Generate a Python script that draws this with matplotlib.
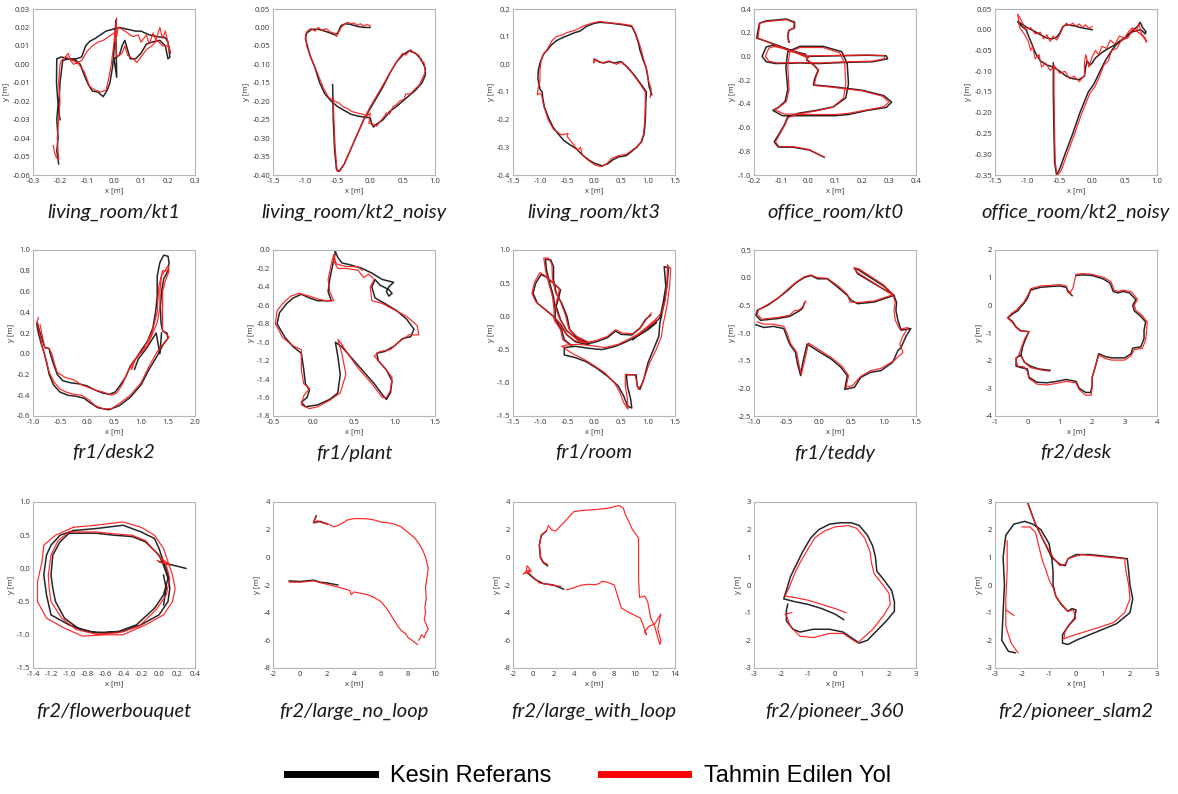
import numpy as np
import matplotlib
matplotlib.use("Agg")
import matplotlib.pyplot as plt
from matplotlib.lines import Line2D
from matplotlib.ticker import MultipleLocator, FormatStrFormatter

plt.rcParams['axes.unicode_minus'] = False

GAP = (np.nan, np.nan)

titles = ["living_room/kt1", "living_room/kt2_noisy", "living_room/kt3",
          "office_room/kt0", "office_room/kt2_noisy",
          "fr1/desk2", "fr1/plant", "fr1/room", "fr1/teddy", "fr2/desk",
          "fr2/flowerbouquet", "fr2/large_no_loop", "fr2/large_with_loop",
          "fr2/pioneer_360", "fr2/pioneer_slam2"]

x_limits = [(-0.3, 0.3), (-1.5, 1.0), (-1.5, 1.5), (-0.2, 0.4), (-1.5, 1.0),
            (-1.0, 2.0), (-0.5, 1.5), (-1.5, 1.5), (-1.0, 1.5), (-1, 4),
            (-1.4, 0.4), (-2, 10), (-2, 14), (-3, 3), (-3, 3)]
y_limits = [(-0.06, 0.03), (-0.40, 0.05), (-0.4, 0.2), (-1.0, 0.4), (-0.35, 0.05),
            (-0.6, 1.0), (-1.8, 0.0), (-1.5, 1.0), (-2.5, 0.5), (-4, 2),
            (-1.5, 1.0), (-8, 4), (-8, 4), (-3, 3), (-3, 3)]
x_steps = [0.1, 0.5, 0.5, 0.1, 0.5, 0.5, 0.5, 0.5, 0.5, 1, 0.2, 2, 2, 1, 1]
y_steps = [0.01, 0.05, 0.1, 0.2, 0.05, 0.2, 0.2, 0.5, 0.5, 1, 0.5, 2, 2, 1, 1]
x_formats = ['%.1f', '%.1f', '%.1f', '%.1f', '%.1f', '%.1f', '%.1f', '%.1f', '%.1f',
             '%d', '%.1f', '%d', '%d', '%d', '%d']
y_formats = ['%.2f', '%.2f', '%.1f', '%.1f', '%.2f', '%.1f', '%.1f', '%.1f', '%.1f',
             '%d', '%.1f', '%d', '%d', '%d', '%d']

legend_labels = ["Kesin Referans", "Tahmin Edilen Yol"]

# ---- living_room/kt1 ----
kt1_gt = [(-0.205, -0.054), (-0.212, -0.047), (-0.207, -0.040), (-0.212, -0.030), (-0.207, -0.022),
          (-0.213, -0.010), (-0.212, 0.003), (-0.195, 0.004), (-0.17, 0.003), (-0.14, 0.003),
          (-0.12, 0.004), (-0.105, 0.010), (-0.09, 0.0125), (-0.07, 0.014), (-0.05, 0.016),
          (-0.03, 0.018), (-0.005, 0.019), (0.02, 0.020), (0.05, 0.019), (0.08, 0.018),
          (0.10, 0.018), (0.13, 0.016), (0.16, 0.015), (0.19, 0.0145), (0.20, 0.012),
          (0.207, 0.004), (0.20, 0.003), (0.19, 0.010), (0.17, 0.013), (0.14, 0.012),
          (0.12, 0.011), (0.10, 0.006), (0.08, 0.003), (0.06, 0.003), (0.05, 0.008),
          (0.04, 0.013), (0.03, 0.010), (0.02, 0.005), (0.0, 0.003), (0.01, -0.007),
          (0.008, 0.010), (0.005, 0.020), (0.008, 0.024), (0.003, 0.012), (-0.005, -0.001),
          (-0.015, -0.010), (-0.025, -0.014), (-0.04, -0.0175), (-0.06, -0.015), (-0.08, -0.0145),
          (-0.095, -0.011), (-0.11, -0.006), (-0.125, 0.0), (-0.14, 0.002), (-0.17, 0.003),
          (-0.19, 0.002), (-0.20, -0.010), (-0.205, -0.025), (-0.20, -0.030)]
kt1_est = [(-0.225, -0.044), (-0.22, -0.048), (-0.215, -0.050), (-0.205, -0.052), (-0.21, -0.040),
           (-0.205, -0.030), (-0.20, -0.020), (-0.205, -0.010), (-0.20, 0.0), (-0.195, 0.002),
           (-0.18, 0.004), (-0.17, 0.006), (-0.16, 0.002), (-0.15, 0.0), (-0.12, 0.002),
           (-0.10, 0.007), (-0.08, 0.010), (-0.06, 0.012), (-0.04, 0.013), (-0.02, 0.015),
           (0.0, 0.017), (0.01, 0.015), (0.015, 0.020), (0.03, 0.019), (0.05, 0.017),
           (0.07, 0.015), (0.09, 0.016), (0.10, 0.012), (0.12, 0.016), (0.13, 0.011),
           (0.145, 0.017), (0.155, 0.013), (0.17, 0.020), (0.18, 0.014), (0.19, 0.018),
           (0.20, 0.012), (0.21, 0.006), (0.20, 0.010), (0.18, 0.010), (0.16, 0.013),
           (0.14, 0.010), (0.12, 0.008), (0.10, 0.004), (0.085, 0.001), (0.07, 0.003),
           (0.05, 0.005), (0.04, 0.010), (0.03, 0.006), (0.01, 0.004), (0.005, 0.014),
           (0.01, 0.025), (0.0, 0.012), (-0.01, 0.0), (-0.02, -0.008), (-0.03, -0.014),
           (-0.05, -0.015), (-0.07, -0.014), (-0.09, -0.012), (-0.11, -0.004), (-0.13, 0.0),
           (-0.15, 0.002), (-0.18, 0.004)]

# ---- living_room/kt2_noisy ----
kt2n_gt = [(0.0, 0.0), (-0.1, 0.0), (-0.2, 0.003), (-0.3, 0.008), (-0.38, 0.010), (-0.45, 0.005),
           (-0.5, -0.015), (-0.55, -0.020), (-0.62, -0.015), (-0.7, -0.010), (-0.8, -0.005),
           (-0.9, -0.005), (-0.98, -0.015), (-1.0, -0.030), (-0.97, -0.050), (-0.92, -0.080),
           (-0.85, -0.110), (-0.78, -0.150), (-0.7, -0.180), (-0.6, -0.200), (-0.5, -0.215),
           (-0.4, -0.225), (-0.3, -0.235), (-0.2, -0.240), (-0.1, -0.243), (0.0, -0.245),
           (0.02, -0.260), (0.05, -0.270), (0.1, -0.262), (0.2, -0.250), (0.3, -0.228),
           (0.4, -0.215), (0.5, -0.200), (0.6, -0.185), (0.7, -0.170), (0.8, -0.150),
           (0.85, -0.130), (0.85, -0.110), (0.78, -0.085), (0.7, -0.070), (0.6, -0.063),
           (0.5, -0.075), (0.4, -0.095), (0.3, -0.125), (0.2, -0.160), (0.1, -0.190),
           (0.0, -0.220), (-0.1, -0.250), (-0.2, -0.290), (-0.3, -0.330), (-0.4, -0.370),
           (-0.48, -0.390), (-0.52, -0.385), (-0.55, -0.330), (-0.57, -0.250), (-0.58, -0.155)]
kt2n_est = [(0.0, 0.005), (-0.05, 0.008), (-0.1, 0.003), (-0.15, 0.010), (-0.2, 0.006), (-0.25, 0.012),
            (-0.3, 0.010), (-0.35, 0.014), (-0.4, 0.008), (-0.45, 0.0), (-0.5, -0.018), (-0.52, -0.025),
            (-0.56, -0.015), (-0.62, -0.012), (-0.68, -0.003), (-0.75, -0.008), (-0.8, 0.0),
            (-0.85, -0.010), (-0.92, -0.003), (-0.98, -0.012), (-1.0, -0.020), (-0.98, -0.050),
            (-0.93, -0.075), (-0.87, -0.100), (-0.8, -0.130), (-0.72, -0.165), (-0.64, -0.190),
            (-0.55, -0.200), (-0.48, -0.205), (-0.42, -0.215), (-0.35, -0.220), (-0.28, -0.228),
            (-0.2, -0.232), (-0.12, -0.235), (-0.05, -0.240), (0.0, -0.232), (-0.02, -0.260),
            (0.05, -0.262), (0.1, -0.268), (0.15, -0.255), (0.2, -0.245), (0.25, -0.232),
            (0.3, -0.235), (0.35, -0.215), (0.4, -0.210), (0.45, -0.200), (0.52, -0.195),
            (0.55, -0.180), (0.62, -0.180), (0.7, -0.165), (0.75, -0.158), (0.8, -0.140),
            (0.85, -0.120), (0.83, -0.095), (0.78, -0.090), (0.75, -0.075), (0.68, -0.070),
            (0.62, -0.060), (0.55, -0.075), (0.5, -0.070), (0.42, -0.090), (0.35, -0.110),
            (0.28, -0.130), (0.2, -0.155), (0.1, -0.185), (0.0, -0.215), (-0.1, -0.250),
            (-0.2, -0.290), (-0.3, -0.330), (-0.4, -0.370), (-0.47, -0.390), (-0.51, -0.390),
            (-0.54, -0.330), (-0.56, -0.250), (-0.57, -0.190)]

# ---- living_room/kt3 ----
kt3_gt = [(0.0, 0.016), (0.05, 0.015), (0.1, 0.008), (0.18, 0.005), (0.28, 0.010), (0.38, 0.005),
          (0.5, 0.010), (0.62, -0.010), (0.75, -0.040), (0.9, -0.080), (0.97, -0.100), (0.96, -0.140),
          (0.95, -0.200), (0.93, -0.250), (0.88, -0.280), (0.79, -0.300), (0.6, -0.330),
          (0.45, -0.335), (0.35, -0.345), (0.25, -0.360), (0.15, -0.367), (0.05, -0.360),
          (0.0, -0.357), (-0.1, -0.345), (-0.2, -0.330), (-0.33, -0.305), (-0.45, -0.290),
          (-0.56, -0.275), (-0.67, -0.250), (-0.76, -0.227), (-0.85, -0.190), (-0.92, -0.154),
          (-0.95, -0.120), (-0.96, -0.100), (-1.0, -0.090), (-1.04, -0.050), (-1.03, -0.020),
          (-1.0, 0.005), (-0.95, 0.030), (-0.92, 0.040), (-0.85, 0.055), (-0.79, 0.070),
          (-0.7, 0.085), (-0.6, 0.095), (-0.45, 0.107), (-0.35, 0.115), (-0.26, 0.120),
          (-0.14, 0.137), (0.0, 0.148), (0.11, 0.152), (0.3, 0.149), (0.54, 0.143), (0.7, 0.137),
          (0.76, 0.113), (0.82, 0.080), (0.85, 0.052), (0.92, 0.010), (0.96, -0.008),
          (1.0, -0.050), (1.02, -0.080), (1.07, -0.110)]
kt3_est = [(0.0, 0.020), (0.0, 0.005), (0.02, 0.020), (0.05, 0.012), (0.1, 0.010), (0.15, 0.005),
           (0.2, 0.008), (0.28, 0.012), (0.35, 0.005), (0.42, 0.0), (0.5, 0.008), (0.6, -0.008),
           (0.72, -0.035), (0.85, -0.070), (0.95, -0.100), (0.95, -0.150), (0.94, -0.200),
           (0.92, -0.250), (0.87, -0.280), (0.78, -0.300), (0.6, -0.325), (0.45, -0.330),
           (0.33, -0.340), (0.23, -0.360), (0.13, -0.370), (0.03, -0.365), (-0.05, -0.355),
           (-0.15, -0.340), (-0.22, -0.325), (-0.25, -0.300), (-0.3, -0.310), (-0.38, -0.290),
           (-0.5, -0.260), (-0.48, -0.250), (-0.6, -0.255), (-0.75, -0.235), (-0.85, -0.200),
           (-0.93, -0.150), (-0.97, -0.110), (-1.0, -0.105), (-1.05, -0.110), (-1.03, -0.080),
           (-1.0, -0.060), (-1.0, -0.020), (-0.98, 0.010), (-0.93, 0.040), (-0.88, 0.050),
           (-0.82, 0.070), (-0.78, 0.085), (-0.7, 0.100), (-0.6, 0.105), (-0.5, 0.115),
           (-0.4, 0.120), (-0.3, 0.128), (-0.18, 0.140), (-0.05, 0.148), (0.1, 0.155),
           (0.3, 0.150), (0.55, 0.145), (0.7, 0.140), (0.77, 0.113), (0.83, 0.080),
           (0.88, 0.050), (0.93, 0.010), (0.98, -0.020), (1.01, -0.060), (1.06, -0.090),
           (1.04, -0.120)]

# ---- office_room/kt0 ----
kt0_gt = [(0.06, -0.85), (0.006, -0.79), (-0.056, -0.765), (-0.11, -0.765), (-0.125, -0.72),
          (-0.106, -0.65), (-0.088, -0.58), (-0.075, -0.51), (-0.037, -0.48), (0.031, -0.455),
          (0.094, -0.425), (0.14, -0.35), (0.15, -0.23), (0.145, -0.06), (0.125, 0.04),
          (0.056, 0.085), (-0.03, 0.085), (-0.075, 0.04), (-0.082, -0.09), (-0.075, -0.28),
          (-0.085, -0.38), (-0.11, -0.43), (-0.13, -0.455), (-0.095, -0.50), (0.0, -0.50),
          (0.1, -0.50), (0.15, -0.49), (0.22, -0.455), (0.29, -0.43), (0.31, -0.385),
          (0.28, -0.33), (0.2, -0.285), (0.09, -0.255), (0.02, -0.24), (0.025, -0.185),
          (0.038, -0.115), (0.02, -0.07), (-0.005, -0.03), (0.0, 0.0), (0.1, 0.005),
          (0.22, 0.01), (0.29, 0.005), (0.295, -0.02), (0.24, -0.045), (0.14, -0.05),
          (0.04, -0.06), (-0.03, -0.055), (-0.12, -0.06), (-0.155, -0.045), (-0.17, 0.0),
          (-0.155, 0.08), (-0.13, 0.095), (-0.09, 0.07), (-0.06, 0.045), (-0.01, 0.02),
          (0.0, -0.01), (-0.05, 0.04), (-0.12, 0.10), (-0.19, 0.155), (-0.18, 0.28),
          (-0.155, 0.30), (-0.08, 0.315), (-0.05, 0.29), (-0.05, 0.24), (-0.07, 0.22),
          (-0.075, 0.17), (-0.07, 0.12)]
kt0_est = [(0.055, -0.845), (0.004, -0.785), (-0.056, -0.76), (-0.108, -0.76), (-0.12, -0.72),
           (-0.103, -0.65), (-0.086, -0.58), (-0.073, -0.515), (-0.035, -0.485), (0.03, -0.46),
           (0.09, -0.43), (0.132, -0.35), (0.14, -0.23), (0.136, -0.06), (0.118, 0.03),
           (0.056, 0.075), (-0.03, 0.075), (-0.068, 0.035), (-0.075, -0.09), (-0.07, -0.28),
           (-0.08, -0.38), (-0.105, -0.425), (-0.122, -0.45), (-0.09, -0.485), (0.0, -0.49),
           (0.1, -0.49), (0.15, -0.48), (0.22, -0.45), (0.28, -0.425), (0.3, -0.385),
           (0.275, -0.335), (0.2, -0.29), (0.09, -0.26), (0.024, -0.245), (0.028, -0.185),
           (0.04, -0.115), (0.02, -0.065), (-0.005, -0.025), (0.002, 0.005), (0.1, 0.008),
           (0.22, 0.012), (0.28, 0.008), (0.285, -0.018), (0.24, -0.04), (0.14, -0.045),
           (0.04, -0.055), (-0.03, -0.05), (-0.115, -0.055), (-0.145, -0.04), (-0.158, 0.0),
           (-0.145, 0.07), (-0.125, 0.085), (-0.09, 0.065), (-0.06, 0.04), (-0.01, 0.015),
           (0.0, -0.012), (-0.05, 0.035), (-0.12, 0.095), (-0.185, 0.155), (-0.178, 0.28),
           (-0.152, 0.295), (-0.08, 0.31), (-0.052, 0.285), (-0.053, 0.24), (-0.072, 0.22),
           (-0.076, 0.17), (-0.072, 0.12)]

# ---- office_room/kt2_noisy ----
kt2o_gt = [(0.0, 0.0), (-0.1, 0.003), (-0.2, 0.006), (-0.3, 0.010), (-0.4, 0.012), (-0.45, 0.008),
           (-0.5, -0.008), (-0.55, -0.018), (-0.62, -0.022), (-0.7, -0.020), (-0.8, -0.012),
           (-0.9, -0.003), (-1.0, 0.005), (-1.1, 0.015), (-1.15, 0.020), (-1.1, 0.010),
           (-1.02, 0.0), (-0.97, -0.020), (-0.93, -0.035), (-0.88, -0.055), (-0.8, -0.075),
           (-0.7, -0.085), (-0.6, -0.090), (-0.5, -0.100), (-0.4, -0.112), (-0.3, -0.118),
           (-0.2, -0.120), (-0.12, -0.112), (-0.1, -0.090), (-0.08, -0.075), (-0.03, -0.085),
           (0.0, -0.080), (0.05, -0.068), (0.15, -0.055), (0.25, -0.045), (0.4, -0.032),
           (0.5, -0.020), (0.6, -0.005), (0.7, 0.008), (0.74, 0.018), (0.78, 0.005),
           (0.83, -0.005), (0.82, -0.010), (0.75, 0.0), (0.62, -0.005), (0.5, -0.020),
           (0.4, -0.030), (0.3, -0.050), (0.2, -0.075), (0.12, -0.100), (0.03, -0.130),
           (-0.06, -0.150), (-0.19, -0.200), (-0.3, -0.250), (-0.42, -0.300), (-0.5, -0.335),
           (-0.55, -0.350), (-0.58, -0.320), (-0.59, -0.250), (-0.6, -0.150), (-0.6, -0.080)]
kt2o_est = [(0.0, 0.008), (-0.05, 0.003), (-0.1, 0.012), (-0.15, 0.006), (-0.2, 0.014), (-0.25, 0.008),
            (-0.3, 0.016), (-0.35, 0.010), (-0.4, 0.016), (-0.45, 0.006), (-0.5, -0.012),
            (-0.55, -0.025), (-0.6, -0.015), (-0.65, -0.028), (-0.7, -0.012), (-0.75, -0.022),
            (-0.8, -0.006), (-0.88, -0.010), (-0.95, 0.005), (-1.02, 0.0), (-1.08, 0.018),
            (-1.15, 0.038), (-1.12, 0.005), (-1.05, -0.010), (-0.98, -0.030), (-0.95, -0.050),
            (-0.92, -0.040), (-0.88, -0.070), (-0.82, -0.060), (-0.78, -0.090), (-0.72, -0.080),
            (-0.65, -0.098), (-0.58, -0.088), (-0.5, -0.105), (-0.42, -0.100), (-0.35, -0.118),
            (-0.28, -0.112), (-0.2, -0.125), (-0.12, -0.110), (-0.12, -0.080), (-0.1, -0.060),
            (-0.05, -0.090), (0.0, -0.065), (0.05, -0.050), (0.1, -0.060), (0.15, -0.040),
            (0.22, -0.045), (0.28, -0.025), (0.35, -0.035), (0.42, -0.015), (0.5, -0.020),
            (0.56, -0.005), (0.62, 0.005), (0.68, -0.003), (0.72, 0.015), (0.76, -0.010),
            (0.82, -0.020), (0.84, -0.030), (0.78, -0.015), (0.7, -0.005), (0.62, 0.0),
            (0.55, -0.020), (0.45, -0.025), (0.38, -0.045), (0.3, -0.050), (0.25, -0.075),
            (0.18, -0.085), (0.12, -0.110), (0.05, -0.135), (-0.04, -0.155), (-0.17, -0.205),
            (-0.28, -0.255), (-0.4, -0.305), (-0.48, -0.340), (-0.54, -0.352), (-0.57, -0.320),
            (-0.58, -0.250), (-0.59, -0.150), (-0.59, -0.085)]

# ---- fr1/desk2 ----
desk2_gt = [(-0.93, 0.28), (-0.9, 0.2), (-0.85, 0.1), (-0.8, 0.02), (-0.75, -0.08), (-0.7, -0.2),
            (-0.62, -0.3), (-0.5, -0.37), (-0.35, -0.4), (-0.2, -0.41), (-0.05, -0.43),
            (0.05, -0.47), (0.2, -0.52), (0.4, -0.54), (0.6, -0.5), (0.8, -0.42), (1.0, -0.3),
            (1.15, -0.15), (1.3, -0.02), (1.4, 0.08), (1.5, 0.15), (1.48, 0.2), (1.4, 0.22),
            (1.37, 0.3), (1.36, 0.45), (1.38, 0.6), (1.42, 0.72), (1.5, 0.8), (1.52, 0.88),
            (1.5, 0.94), (1.42, 0.95), (1.35, 0.88), (1.3, 0.75), (1.3, 0.55), (1.27, 0.4),
            (1.22, 0.25), (1.12, 0.12), (1.0, 0.03), (0.9, -0.05), (0.8, -0.12), (0.72, -0.22),
            (0.62, -0.3), (0.52, -0.37), (0.42, -0.39), (0.3, -0.38), (0.15, -0.35), (0.0, -0.31),
            (-0.15, -0.29), (-0.3, -0.28), (-0.45, -0.26), (-0.55, -0.2), (-0.62, -0.1),
            (-0.68, 0.0), (-0.7, 0.05), (-0.78, 0.06), (-0.82, 0.12), (-0.88, 0.22), (-0.92, 0.3),
            GAP, (0.88, -0.15), (0.95, -0.05), (1.1, 0.05), (1.28, 0.2), (1.35, 0.0), (1.38, 0.2)]
desk2_est = [(-0.9, 0.35), (-0.93, 0.3), (-0.9, 0.25), (-0.86, 0.15), (-0.82, 0.05), (-0.76, -0.05),
             (-0.7, -0.18), (-0.6, -0.28), (-0.5, -0.34), (-0.38, -0.37), (-0.25, -0.39),
             (-0.1, -0.4), (0.05, -0.45), (0.15, -0.5), (0.3, -0.53), (0.45, -0.53), (0.6, -0.48),
             (0.8, -0.4), (1.0, -0.28), (1.15, -0.12), (1.3, 0.02), (1.45, 0.12), (1.52, 0.16),
             (1.45, 0.2), (1.4, 0.22), (1.4, 0.4), (1.4, 0.6), (1.45, 0.7), (1.52, 0.8),
             (1.5, 0.85), (1.42, 0.78), (1.38, 0.75), (1.35, 0.6), (1.35, 0.45), (1.3, 0.3),
             (1.22, 0.2), (1.12, 0.08), (0.98, 0.0), (0.85, -0.08), (0.75, -0.18), (0.65, -0.3),
             (0.55, -0.38), (0.45, -0.4), (0.3, -0.37), (0.15, -0.35), (0.0, -0.32), (-0.1, -0.3),
             (-0.25, -0.25), (-0.4, -0.23), (-0.55, -0.18), (-0.6, -0.1), (-0.65, 0.0),
             (-0.7, 0.05), (-0.78, 0.06), (-0.82, 0.15), (-0.87, 0.28),
             GAP, (0.85, -0.12), (0.82, -0.15), (0.9, -0.05), (1.05, 0.05), (1.2, 0.2),
             (1.3, 0.4), (1.33, 0.65), (1.4, 0.8), (1.5, 0.8)]

# ---- fr1/plant ----
plant_gt = [(0.27, -0.02), (0.3, -0.08), (0.35, -0.14), (0.45, -0.16), (0.6, -0.2), (0.72, -0.25),
            (0.85, -0.32), (0.99, -0.35), (0.93, -0.4), (0.9, -0.45), (0.93, -0.5), (0.97, -0.47),
            (0.93, -0.43), (0.82, -0.38), (0.76, -0.32), (0.72, -0.4), (0.76, -0.52), (0.88, -0.58),
            (1.03, -0.66), (1.15, -0.75), (1.24, -0.86), (1.2, -0.94), (1.1, -0.96), (1.0, -1.04),
            (0.88, -1.1), (0.78, -1.12), (0.8, -1.2), (0.9, -1.3), (0.97, -1.42), (0.95, -1.55),
            (0.9, -1.62), (0.86, -1.58), (0.75, -1.45), (0.6, -1.3), (0.45, -1.15), (0.35, -1.05),
            (0.27, -1.0), (0.3, -1.15), (0.33, -1.35), (0.3, -1.55), (0.2, -1.62), (0.05, -1.68),
            (-0.1, -1.7), (-0.15, -1.65), (-0.08, -1.6), (-0.05, -1.52), (-0.1, -1.45),
            (-0.12, -1.3), (-0.15, -1.12), (-0.25, -1.05), (-0.35, -0.95), (-0.45, -0.8),
            (-0.42, -0.68), (-0.33, -0.58), (-0.25, -0.52), (-0.15, -0.48), (-0.05, -0.52),
            (0.05, -0.55), (0.15, -0.55), (0.22, -0.55), (0.18, -0.45), (0.2, -0.32),
            (0.24, -0.15), (0.27, -0.02)]
plant_est = [(0.26, -0.05), (0.25, -0.12), (0.3, -0.2), (0.4, -0.2), (0.55, -0.22), (0.62, -0.3),
             (0.68, -0.26), (0.75, -0.32), (0.7, -0.4), (0.72, -0.55), (0.85, -0.58), (1.0, -0.65),
             (1.15, -0.72), (1.28, -0.82), (1.3, -0.92), (1.18, -0.92), (1.05, -1.0), (0.95, -1.08),
             (0.82, -1.1), (0.75, -1.15), (0.85, -1.25), (0.97, -1.38), (0.95, -1.52), (0.9, -1.6),
             (0.85, -1.6), (0.72, -1.45), (0.55, -1.28), (0.42, -1.12), (0.33, -1.0), (0.3, -0.97),
             (0.35, -1.12), (0.4, -1.35), (0.33, -1.55), (0.2, -1.63), (0.05, -1.7), (-0.05, -1.72),
             (-0.15, -1.68), (-0.12, -1.58), (-0.05, -1.5), (-0.12, -1.45), (-0.15, -1.3),
             (-0.15, -1.08), (-0.25, -1.04), (-0.38, -0.95), (-0.47, -0.8), (-0.45, -0.66),
             (-0.38, -0.58), (-0.28, -0.5), (-0.18, -0.47), (-0.05, -0.5), (0.05, -0.53),
             (0.15, -0.55), (0.25, -0.55), (0.2, -0.45), (0.18, -0.32), (0.22, -0.15),
             (0.25, -0.05), (0.28, -0.15), (0.4, -0.18), (0.55, -0.18), (0.6, -0.22)]

# ---- fr1/room ----
room_gt = [(-0.1, -0.42), (-0.3, -0.35), (-0.5, -0.22), (-0.62, -0.05), (-0.7, 0.15), (-0.65, 0.3),
           (-0.62, 0.4), (-0.75, 0.5), (-0.9, 0.6), (-0.98, 0.63), (-1.08, 0.5), (-1.13, 0.35),
           (-1.05, 0.2), (-0.9, 0.1), (-0.75, 0.0), (-0.62, -0.12), (-0.5, -0.28), (-0.35, -0.38),
           (-0.15, -0.42), (0.05, -0.38), (0.25, -0.32), (0.4, -0.22), (0.5, -0.27), (0.7, -0.28),
           (0.85, -0.18), (0.95, -0.05), (1.05, 0.02),
           GAP, (0.72, -0.35), (0.9, -0.22), (1.1, -0.12), (1.22, -0.02), (1.28, 0.2),
           (1.33, 0.45), (1.3, 0.75), (1.38, 0.73), (1.35, 0.45), (1.3, 0.2), (1.22, -0.1),
           (1.2, -0.3), (1.1, -0.5), (1.0, -0.7), (0.92, -0.95), (0.85, -1.1), (0.8, -1.05),
           (0.78, -0.88), (0.6, -0.88), (0.62, -1.05), (0.68, -1.25), (0.7, -1.38), (0.62, -1.35),
           (0.55, -1.2), (0.45, -1.05), (0.25, -0.9), (0.05, -0.78), (-0.15, -0.68), (-0.35, -0.62),
           (-0.55, -0.58), (-0.55, -0.47), (-0.35, -0.45), (-0.1, -0.48), (0.15, -0.5),
           (0.4, -0.45), (0.6, -0.38), (0.8, -0.3), (1.0, -0.2), (1.15, -0.1),
           GAP, (-0.1, -0.4), (-0.3, -0.33), (-0.45, -0.2), (-0.5, 0.0), (-0.6, 0.2), (-0.7, 0.35),
           (-0.75, 0.55), (-0.75, 0.75), (-0.8, 0.85), (-0.9, 0.86), (-0.88, 0.7), (-0.82, 0.5),
           (-0.75, 0.3), (-0.72, 0.1), (-0.72, -0.05), (-0.6, -0.2), (-0.55, -0.35), (-0.4, -0.45)]
room_est = [(-0.15, -0.4), (-0.35, -0.32), (-0.52, -0.2), (-0.64, -0.03), (-0.72, 0.15),
            (-0.67, 0.3), (-0.64, 0.42), (-0.78, 0.52), (-0.92, 0.62), (-1.0, 0.66), (-1.1, 0.52),
            (-1.15, 0.35), (-1.08, 0.22), (-0.93, 0.12), (-0.78, 0.02), (-0.65, -0.1),
            (-0.52, -0.26), (-0.37, -0.36), (-0.17, -0.4), (0.05, -0.36), (0.25, -0.3),
            (0.4, -0.2), (0.52, -0.25), (0.72, -0.26), (0.88, -0.15), (0.98, -0.03), (1.06, 0.05),
            GAP, (0.78, -0.3), (0.95, -0.18), (1.12, -0.06), (1.25, 0.05), (1.32, 0.25),
            (1.35, 0.5), (1.36, 0.78), (1.42, 0.72), (1.4, 0.45), (1.35, 0.15), (1.28, -0.12),
            (1.25, -0.3), (1.15, -0.5), (1.02, -0.72), (0.9, -1.0), (0.82, -1.1), (0.78, -0.95),
            (0.76, -0.88), (0.58, -0.87), (0.58, -1.05), (0.62, -1.25), (0.63, -1.4),
            (0.55, -1.3), (0.48, -1.15), (0.38, -1.0), (0.2, -0.85), (0.0, -0.74), (-0.2, -0.64),
            (-0.4, -0.56), (-0.6, -0.45), (-0.5, -0.43), (-0.3, -0.42), (-0.05, -0.44),
            (0.2, -0.47), (0.45, -0.42), (0.65, -0.34), (0.85, -0.25), (1.02, -0.15), (1.17, -0.05),
            GAP, (-0.12, -0.38), (-0.32, -0.3), (-0.47, -0.18), (-0.53, 0.02), (-0.62, 0.22),
            (-0.72, 0.38), (-0.77, 0.58), (-0.78, 0.78), (-0.84, 0.88), (-0.93, 0.88),
            (-0.9, 0.7), (-0.84, 0.5), (-0.77, 0.3), (-0.74, 0.1), (-0.74, -0.05), (-0.62, -0.2),
            (-0.58, -0.35), (-0.42, -0.44)]

# ---- fr1/teddy ----
teddy_gt = [(-0.22, -0.45), (-0.25, -0.55), (-0.3, -0.6), (-0.45, -0.7), (-0.64, -0.74),
            (-0.9, -0.77), (-0.97, -0.68), (-0.95, -0.59), (-0.79, -0.5), (-0.64, -0.38),
            (-0.48, -0.23), (-0.36, -0.1), (-0.23, 0.0), (-0.12, 0.04), (-0.02, -0.02),
            (0.13, -0.02), (0.29, -0.17), (0.44, -0.32), (0.5, -0.41), (0.6, -0.47), (0.86, -0.44),
            (1.16, -0.32), (0.6, 0.07), (0.55, 0.17), (0.6, 0.15), (1.0, -0.15), (1.16, -0.32),
            (1.2, -0.45), (1.19, -0.59), (1.22, -0.77), (1.27, -0.95), (1.42, -0.92), (1.35, -1.05),
            (1.27, -1.26), (1.22, -1.32), (1.14, -1.53), (0.96, -1.68), (0.8, -1.71), (0.65, -1.8),
            (0.55, -1.98), (0.4, -2.02), (0.44, -1.77), (0.34, -1.62), (0.19, -1.47),
            (-0.02, -1.32), (-0.18, -1.2), (-0.2, -1.3), (-0.25, -1.55), (-0.28, -1.77),
            (-0.33, -1.55), (-0.36, -1.35), (-0.45, -1.2), (-0.5, -1.05), (-0.54, -0.92),
            (-0.7, -0.88), (-0.85, -0.9), (-0.97, -0.85)]
teddy_est = [(-0.2, -0.42), (-0.24, -0.52), (-0.3, -0.58), (-0.38, -0.6), (-0.45, -0.68),
             (-0.64, -0.72), (-0.88, -0.75), (-0.95, -0.66), (-0.93, -0.58), (-0.78, -0.48),
             (-0.62, -0.36), (-0.47, -0.2), (-0.35, -0.08), (-0.22, 0.02), (-0.12, 0.05),
             (-0.02, 0.0), (0.13, -0.01), (0.3, -0.15), (0.44, -0.3), (0.48, -0.44), (0.6, -0.45),
             (0.86, -0.42), (1.14, -0.31), (0.6, 0.09), (0.54, 0.18), (0.62, 0.16), (1.0, -0.13),
             (1.14, -0.3), (1.18, -0.45), (1.16, -0.59), (1.18, -0.77), (1.25, -0.93),
             (1.38, -0.9), (1.3, -1.05), (1.25, -1.2), (1.3, -1.35), (1.16, -1.5), (0.96, -1.64),
             (0.8, -1.68), (0.65, -1.78), (0.52, -1.95), (0.42, -1.98), (0.46, -1.77),
             (0.36, -1.6), (0.2, -1.45), (0.0, -1.3), (-0.16, -1.18), (-0.18, -1.3),
             (-0.23, -1.55), (-0.27, -1.75), (-0.31, -1.55), (-0.34, -1.35), (-0.44, -1.18),
             (-0.48, -1.03), (-0.54, -0.88), (-0.7, -0.84), (-0.85, -0.84), (-0.95, -0.8)]

# ---- fr2/desk ----
fr2desk_gt = [(1.38, 0.35), (1.25, 0.5), (1.2, 0.65), (1.0, 0.7), (0.7, 0.68), (0.4, 0.65),
              (0.1, 0.55), (0.05, 0.4), (0.0, 0.25), (-0.1, 0.08), (-0.2, -0.05), (-0.3, -0.2),
              (-0.45, -0.3), (-0.6, -0.45), (-0.45, -0.6), (-0.35, -0.78), (-0.2, -0.92),
              (0.05, -0.95), (-0.05, -1.2), (-0.15, -1.5), (-0.2, -1.8), (-0.35, -1.9),
              (-0.35, -2.2), (-0.2, -2.25), (0.0, -2.3), (0.05, -2.6), (0.3, -2.78), (0.6, -2.8),
              (0.9, -2.75), (1.2, -2.68), (1.5, -2.75), (1.6, -3.0), (1.8, -3.15), (1.95, -3.15),
              (2.0, -2.9), (2.0, -2.6), (2.1, -2.2), (2.2, -1.75), (2.4, -1.85), (2.6, -1.9),
              (3.0, -1.9), (3.2, -1.75), (3.25, -1.55), (3.5, -1.5), (3.6, -1.2), (3.6, -0.9),
              (3.65, -0.6), (3.5, -0.4), (3.3, -0.2), (3.25, 0.0), (3.35, 0.2), (3.15, 0.45),
              (2.95, 0.5), (2.8, 0.45), (2.65, 0.5), (2.55, 0.8), (2.35, 0.95), (2.0, 1.08),
              (1.7, 1.1), (1.5, 1.08),
              GAP, (-0.2, -1.8), (-0.1, -2.05), (0.1, -2.2), (0.35, -2.3), (0.7, -2.35)]
fr2desk_est = [(1.35, 0.4), (1.25, 0.55), (1.2, 0.7), (1.0, 0.75), (0.7, 0.72), (0.4, 0.7),
               (0.1, 0.6), (0.05, 0.45), (-0.02, 0.3), (-0.12, 0.1), (-0.22, -0.02), (-0.32, -0.15),
               (-0.48, -0.28), (-0.62, -0.45), (-0.48, -0.6), (-0.35, -0.8), (-0.22, -0.93),
               (0.05, -0.95), (-0.08, -1.2), (-0.18, -1.5), (-0.25, -1.75), (-0.35, -1.95),
               (-0.3, -2.2), (-0.1, -2.22), (0.0, -2.4), (0.05, -2.65), (0.3, -2.85), (0.6, -2.88),
               (0.9, -2.82), (1.2, -2.75), (1.5, -2.8), (1.6, -3.05), (1.8, -3.25), (1.97, -3.25),
               (2.0, -2.95), (2.0, -2.6), (2.1, -2.2), (2.2, -1.8), (2.4, -1.92), (2.6, -1.98),
               (3.0, -1.98), (3.2, -1.82), (3.3, -1.6), (3.55, -1.55), (3.65, -1.25), (3.68, -0.9),
               (3.7, -0.6), (3.55, -0.38), (3.35, -0.18), (3.3, 0.0), (3.4, 0.22), (3.2, 0.5),
               (2.95, 0.55), (2.8, 0.5), (2.68, 0.55), (2.58, 0.85), (2.38, 1.0), (2.0, 1.12),
               (1.7, 1.15), (1.5, 1.12), (1.45, 0.85), (1.4, 0.6), (1.32, 0.48),
               GAP, (-0.2, -1.85), (-0.05, -2.1), (0.1, -2.25), (0.35, -2.32), (0.65, -2.38)]

# ---- fr2/flowerbouquet ----
flower_gt = [(-0.95, 0.57), (-0.7, 0.6), (-0.4, 0.65), (-0.2, 0.55), (-0.05, 0.45), (0.0, 0.3),
             (0.05, 0.1), (0.1, -0.1), (0.12, -0.3), (0.1, -0.5), (0.0, -0.7), (-0.2, -0.85),
             (-0.4, -0.95), (-0.6, -0.97), (-0.8, -0.95), (-1.0, -0.85), (-1.2, -0.7),
             (-1.25, -0.4), (-1.28, -0.1), (-1.25, 0.2), (-1.2, 0.35), (-1.1, 0.5), (-0.95, 0.57),
             GAP, (-1.0, 0.53), (-0.7, 0.53), (-0.5, 0.5), (-0.3, 0.48), (-0.15, 0.4), (0.0, 0.2),
             (0.05, 0.05), (0.1, -0.15), (0.05, -0.4), (-0.05, -0.6), (-0.25, -0.85),
             (-0.45, -0.95), (-0.7, -0.97), (-0.9, -0.9), (-1.05, -0.75), (-1.15, -0.5),
             (-1.18, -0.3), (-1.2, -0.1), (-1.18, 0.2), (-1.1, 0.4), (-1.0, 0.53),
             GAP, (0.0, 0.1), (0.15, 0.05), (0.3, 0.0),
             GAP, (0.05, -0.55), (0.08, -0.3), (0.05, -0.1)]
flower_est = [(-0.95, 0.62), (-0.7, 0.65), (-0.4, 0.7), (-0.2, 0.62), (-0.05, 0.5), (0.05, 0.3),
              (0.1, 0.1), (0.15, -0.1), (0.18, -0.3), (0.15, -0.5), (0.05, -0.7), (-0.15, -0.85),
              (-0.4, -1.0), (-0.6, -1.0), (-0.85, -1.02), (-1.05, -0.9), (-1.25, -0.75),
              (-1.35, -0.5), (-1.35, -0.2), (-1.3, 0.1), (-1.28, 0.35), (-1.15, 0.5), (-0.95, 0.62),
              GAP, (-1.0, 0.55), (-0.7, 0.55), (-0.5, 0.52), (-0.3, 0.5), (-0.15, 0.42),
              (-0.02, 0.22), (0.08, 0.05), (0.12, -0.15), (0.08, -0.4), (-0.03, -0.62),
              (-0.22, -0.87), (-0.45, -0.97), (-0.7, -0.99), (-0.92, -0.92), (-1.08, -0.75),
              (-1.2, -0.5), (-1.22, -0.3), (-1.23, -0.1), (-1.2, 0.2), (-1.12, 0.42), (-1.0, 0.55),
              GAP, (-0.02, 0.12), (0.05, 0.08), (0.12, 0.05), (0.03, 0.15)]

# ---- fr2/large_no_loop ----
lnl_gt = [(1.2, 3.0), (1.0, 2.5), (1.5, 2.6), (2.0, 2.4),
          GAP, (-0.8, -1.7), (0.0, -1.75), (0.5, -1.7), (1.0, -1.65), (1.5, -1.8), (2.0, -1.85),
          (2.8, -2.0)]
lnl_est = [(1.2, 3.0), (1.0, 2.5), (1.3, 2.65), (1.6, 2.5), (2.0, 2.45), (2.5, 2.2), (2.8, 2.3),
           (3.2, 2.5), (3.5, 2.7), (4.0, 2.8), (4.5, 2.8), (5.0, 2.78), (5.5, 2.7), (6.0, 2.55),
           (6.5, 2.5), (7.0, 2.4), (7.5, 2.2), (8.0, 1.8), (8.5, 1.4), (8.8, 1.0), (9.1, 0.5),
           (9.3, 0.0), (9.5, -0.8), (9.4, -1.5), (9.3, -2.2), (9.35, -3.0), (9.25, -3.6),
           (9.3, -4.0), (9.2, -4.5), (9.5, -5.2), (9.3, -5.5), (9.2, -5.8), (9.0, -5.6),
           (8.8, -6.0),
           GAP, (8.7, -6.3), (8.3, -6.0), (8.0, -5.8), (7.8, -5.5), (7.5, -5.3), (7.2, -4.9),
           (7.0, -4.6), (6.5, -3.8), (6.0, -3.2), (5.5, -2.9), (5.0, -2.7), (4.5, -2.6),
           (4.0, -2.5), (3.8, -2.7), (3.7, -2.4), (3.0, -2.2), (2.0, -1.95), (1.0, -1.7),
           (0.0, -1.8), (-0.8, -1.8)]

# ---- fr2/large_with_loop ----
lwl_gt = [(1.4, -0.6), (1.0, -0.4), (0.7, 0.0), (0.6, 0.9), (0.8, 1.6), (1.3, 1.9),
          GAP, (-0.6, -1.1), (-0.3, -1.3), (0.2, -1.6), (1.0, -1.9), (2.0, -2.0), (3.0, -2.3)]
lwl_est = [(1.4, -0.5), (1.0, -0.35), (0.75, 0.0), (0.6, 0.9), (0.8, 1.6), (1.3, 1.9), (1.5, 2.3),
           (1.8, 2.0), (2.2, 1.9), (3.0, 2.5), (4.0, 3.3), (5.0, 3.4), (6.1, 3.45), (7.4, 3.55),
           (8.5, 3.75), (8.9, 3.55), (9.1, 3.1), (9.8, 2.0), (10.4, 1.4), (10.4, 0.0),
           (10.4, -1.5), (10.5, -2.9), (11.0, -2.8), (11.3, -3.2), (11.6, -4.4), (12.0, -5.0),
           (12.3, -5.8), (12.5, -6.3), (12.6, -6.0), (12.3, -5.2), (12.6, -4.1), (12.0, -4.8),
           (11.4, -5.0), (11.0, -5.4), (11.2, -5.6), (10.6, -4.4), (9.5, -4.0), (8.7, -3.66),
           (8.3, -2.7), (8.0, -2.0), (7.3, -1.8), (6.8, -1.73), (6.5, -1.9), (6.1, -1.98),
           (5.5, -1.95), (4.8, -2.0), (4.0, -2.2), (3.3, -2.35),
           GAP, (2.7, -2.1), (1.8, -2.0), (0.6, -1.85), (0.1, -1.5), (-0.5, -1.1), (-0.4, -0.9),
           (-1.0, -1.2), (-0.2, -1.0), (-0.6, -0.6), (-0.7, -1.0)]

# ---- fr2/pioneer_360 ----
p360_gt = [(0.32, -1.25), (0.0, -1.05), (-0.5, -0.85), (-1.0, -0.7), (-1.5, -0.6), (-1.9, -0.5),
           (-1.8, -0.2), (-1.65, 0.3), (-1.4, 0.8), (-1.2, 1.2), (-0.9, 1.7), (-0.6, 2.0),
           (-0.2, 2.2), (0.2, 2.25), (0.6, 2.25), (0.9, 2.15), (1.2, 1.8), (1.4, 1.4), (1.5, 1.0),
           (1.55, 0.5), (1.8, 0.2), (2.1, -0.2), (2.2, -0.6), (2.2, -0.95), (1.9, -1.3),
           (1.5, -1.7), (1.2, -2.0), (0.9, -2.1), (0.6, -1.9), (0.3, -1.7), (-0.2, -1.6),
           (-0.8, -1.6), (-1.3, -1.7), (-1.55, -1.6), (-1.8, -1.3), (-1.8, -0.9), (-1.75, -0.7)]
p360_est = [(0.4, -1.0), (0.0, -0.85), (-0.5, -0.7), (-1.0, -0.55), (-1.5, -0.45), (-1.85, -0.4),
            (-1.7, -0.1), (-1.5, 0.4), (-1.3, 0.8), (-1.0, 1.3), (-0.75, 1.7), (-0.4, 1.95),
            (0.0, 2.1), (0.5, 2.15), (0.8, 2.05), (1.1, 1.7), (1.3, 1.2), (1.35, 0.8), (1.45, 0.4),
            (1.7, 0.1), (2.0, -0.3), (2.05, -0.7), (1.8, -1.1), (1.4, -1.6), (1.0, -1.95),
            (0.85, -2.1), (0.6, -1.95), (0.3, -1.75), (-0.2, -1.75), (-0.8, -1.9), (-1.3, -1.85),
            (-1.65, -1.5), (-1.8, -1.1), (-1.85, -1.05), (-1.6, -1.0)]

# ---- fr2/pioneer_slam2 ----
slam2_gt = [(-1.8, 3.0), (-1.5, 2.2), (-1.2, 1.6), (-0.9, 1.0), (-0.6, 0.75), (-0.4, 0.7),
            (-0.3, 0.95), (0.0, 1.1), (0.5, 1.1), (1.0, 1.05), (1.5, 1.0), (1.9, 0.95), (1.95, 0.5),
            (2.0, 0.0), (2.1, -0.5), (2.0, -1.0), (1.5, -1.4), (1.0, -1.6), (0.5, -1.8), (0.0, -2.0),
            (-0.3, -2.15), (-0.5, -2.1), (-0.5, -1.8), (-0.3, -1.5), (-0.05, -1.2), (0.0, -0.9),
            (-0.15, -0.85), (-0.3, -0.95), (-0.55, -0.7), (-0.75, -0.4), (-0.85, 0.0),
            (-0.85, 0.5), (-0.9, 1.0), (-1.0, 1.5), (-1.3, 2.0), (-1.6, 2.2), (-1.9, 2.3),
            (-2.3, 2.2), (-2.6, 1.8), (-2.7, 1.0), (-2.65, 0.0), (-2.7, -1.0), (-2.75, -2.0),
            (-2.5, -2.4), (-2.25, -2.45)]
slam2_est = [(-1.8, 3.0), (-1.5, 2.2), (-1.2, 1.6), (-0.85, 1.0), (-0.6, 0.7), (-0.4, 0.75),
             (-0.3, 0.95), (0.2, 1.1), (0.7, 1.05), (1.8, 0.95), (1.85, 0.5), (1.95, 0.0),
             (2.0, -0.5), (1.8, -1.0), (1.4, -1.35), (0.8, -1.55), (0.3, -1.7), (-0.2, -1.85),
             (-0.45, -1.95), (-0.4, -1.65), (-0.2, -1.4), (0.0, -1.2), (-0.1, -0.9), (-0.3, -0.95),
             (-0.7, -0.5), (-0.85, -0.1), (-1.0, 0.2), (-1.1, 0.5), (-1.25, 0.9), (-1.4, 1.5),
             (-1.5, 1.9), (-1.7, 2.1), (-2.0, 2.1),
             GAP, (-2.55, 1.6), (-2.55, 0.5), (-2.6, -0.5), (-2.6, -1.5), (-2.4, -2.1),
             (-2.15, -2.45),
             GAP, (-2.6, -0.9), (-2.3, -1.1)]

ground_truth = [kt1_gt, kt2n_gt, kt3_gt, kt0_gt, kt2o_gt, desk2_gt, plant_gt, room_gt, teddy_gt,
                fr2desk_gt, flower_gt, lnl_gt, lwl_gt, p360_gt, slam2_gt]
estimates = [kt1_est, kt2n_est, kt3_est, kt0_est, kt2o_est, desk2_est, plant_est, room_est,
             teddy_est, fr2desk_est, flower_est, lnl_est, lwl_est, p360_est, slam2_est]

GT_COLOR = '#262626'
EST_COLOR = '#ff1a1a'
TICK_FONT = {'family': 'Open Sans', 'size': 5.6}

W, H = 1178, 794
fig = plt.figure(figsize=(W / 100, H / 100), dpi=100)

col_left = [33, 273, 513, 754, 995]
row_top = [9, 250, 502]
ax_w, ax_h = 162, 166
title_y = [212, 453, 711]

for i in range(15):
    r, c = divmod(i, 5)
    left = col_left[c]
    top = row_top[r]
    ax = fig.add_axes([left / W, 1 - (top + ax_h) / H, ax_w / W, ax_h / H])
    gt = np.array(ground_truth[i], dtype=float)
    est = np.array(estimates[i], dtype=float)
    ax.plot(gt[:, 0], gt[:, 1], color=GT_COLOR, lw=1.1, solid_joinstyle='round')
    ax.plot(est[:, 0], est[:, 1], color=EST_COLOR, lw=0.85, alpha=0.95, solid_joinstyle='round')
    ax.set_xlim(*x_limits[i])
    ax.set_ylim(*y_limits[i])
    ax.xaxis.set_major_locator(MultipleLocator(x_steps[i]))
    ax.yaxis.set_major_locator(MultipleLocator(y_steps[i]))
    ax.xaxis.set_major_formatter(FormatStrFormatter(x_formats[i]))
    ax.yaxis.set_major_formatter(FormatStrFormatter(y_formats[i]))
    ax.tick_params(length=0, pad=2.0, colors='#333333')
    for lab in ax.get_xticklabels() + ax.get_yticklabels():
        lab.set_fontfamily(TICK_FONT['family'])
        lab.set_fontsize(TICK_FONT['size'])
    for sp in ax.spines.values():
        sp.set_color('#b5b5b5')
        sp.set_linewidth(0.8)
    ax.set_xlabel('x [m]', fontdict=TICK_FONT, color='#333333', labelpad=1.5)
    ax.set_ylabel('y [m]', fontdict=TICK_FONT, color='#333333', labelpad=1.5)
    fig.text((left + ax_w / 2) / W, 1 - title_y[r] / H, titles[i],
             ha='center', va='center', fontsize=14.5, style='italic',
             family='Lato', color='#1a1a1a')

handles = [Line2D([], [], color='black', lw=5.0),
           Line2D([], [], color='#ff0000', lw=5.0)]
fig.legend(handles, legend_labels, loc='center', bbox_to_anchor=(0.5, 1 - 776 / H),
           ncol=2, frameon=False, handlelength=3.7, handletextpad=0.65,
           columnspacing=2.1, prop={'family': 'Liberation Sans', 'size': 17})

fig.savefig('out.png', dpi=100)
